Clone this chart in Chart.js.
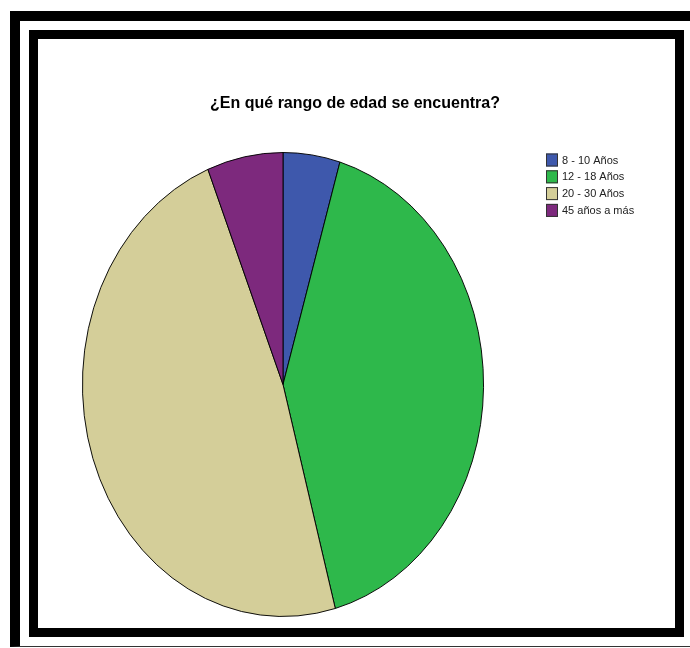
<!DOCTYPE html>
<html>
<head>
<meta charset="utf-8">
<script src="https://cdn.jsdelivr.net/npm/chart.js@4"></script>
<style>
    html, body { margin: 0; padding: 0; background: #fff; overflow: hidden; }
    body { width: 690px; height: 648px; position: relative; }
    .outer {
        position: absolute; left: 10px; top: 11px; width: 700px; height: 625px;
        border-top: 10px solid #000; border-left: 10px solid #000; border-bottom: 1px solid #333;
    }
    .inner {
        position: absolute; left: 29px; top: 30px; width: 637px; height: 589px;
        border: 9px solid #000; background: #fff;
    }
    canvas { position: absolute; left: 0; top: 0; }
</style>
</head>
<body>
<div class="outer"></div>
<div class="inner">
    <canvas id="myChart" width="637" height="589"></canvas>
</div>
<script>
const chartTitle = '¿En qué rango de edad se encuentra?'
const ageGroups = ['8 - 10 Años', '12 - 18 Años', '20 - 30 Años', '45 años a más']
const respondents = [6, 54, 63, 8]
const sliceColors = ['rgb(62, 88, 172)', 'rgb(46, 184, 75)', 'rgb(212, 206, 153)', 'rgb(125, 41, 125)']

// the pie is drawn a bit narrower than it is tall
const squeeze = {
    id: 'squeeze',
    beforeDatasetsDraw(chart) {
        const arc = chart.getDatasetMeta(0).data[0]
        const ctx = chart.ctx
        ctx.save()
        ctx.translate(arc.x, arc.y)
        ctx.scale(201 / 232.5, 1)
        ctx.translate(-arc.x, -arc.y)
    },
    afterDatasetsDraw(chart) {
        chart.ctx.restore()
    }
}

// title across the whole frame, small legend at the upper right
const headerAndLegend = {
    id: 'headerAndLegend',
    afterDraw(chart) {
        const ctx = chart.ctx
        ctx.save()
        ctx.fillStyle = '#000'
        ctx.font = 'bold 16px "Liberation Sans", Arial, sans-serif'
        ctx.textAlign = 'center'
        ctx.textBaseline = 'middle'
        ctx.fillText(chartTitle, chart.width / 2 - 1.5, 65)

        const labels = chart.data.labels
        const colors = chart.data.datasets[0].backgroundColor
        ctx.font = '11px "Liberation Sans", Arial, sans-serif'
        ctx.textAlign = 'left'
        labels.forEach((label, i) => {
            const y = 121 + i * 16.8
            ctx.fillStyle = colors[i]
            ctx.fillRect(508, y - 6.5, 12, 13)
            ctx.strokeStyle = '#333'
            ctx.lineWidth = 1
            ctx.strokeRect(508.5, y - 6, 11, 12)
            ctx.fillStyle = '#222'
            ctx.fillText(label, 524, y + 0.5)
        })
        ctx.restore()
    }
}

const ctx = document.getElementById('myChart')

const myChart = new Chart(ctx,
    {
        type: 'pie',
        plugins: [squeeze, headerAndLegend],
        options: {
            responsive: false,
            animation: false,
            devicePixelRatio: 1,
            layout: {
                padding: { top: 113, bottom: 11, left: 12.5, right: 159.5 }
            },
            plugins: {
                legend: { display: false },
                tooltip: { enabled: false },
                title: { display: false }
            }
        },
        data: {
            labels: ageGroups,
            datasets: [
                {
                    data: respondents,
                    backgroundColor: sliceColors,
                    borderColor: '#000',
                    borderWidth: 1
                }
            ]
        }
    })
</script>
</body>
</html>
